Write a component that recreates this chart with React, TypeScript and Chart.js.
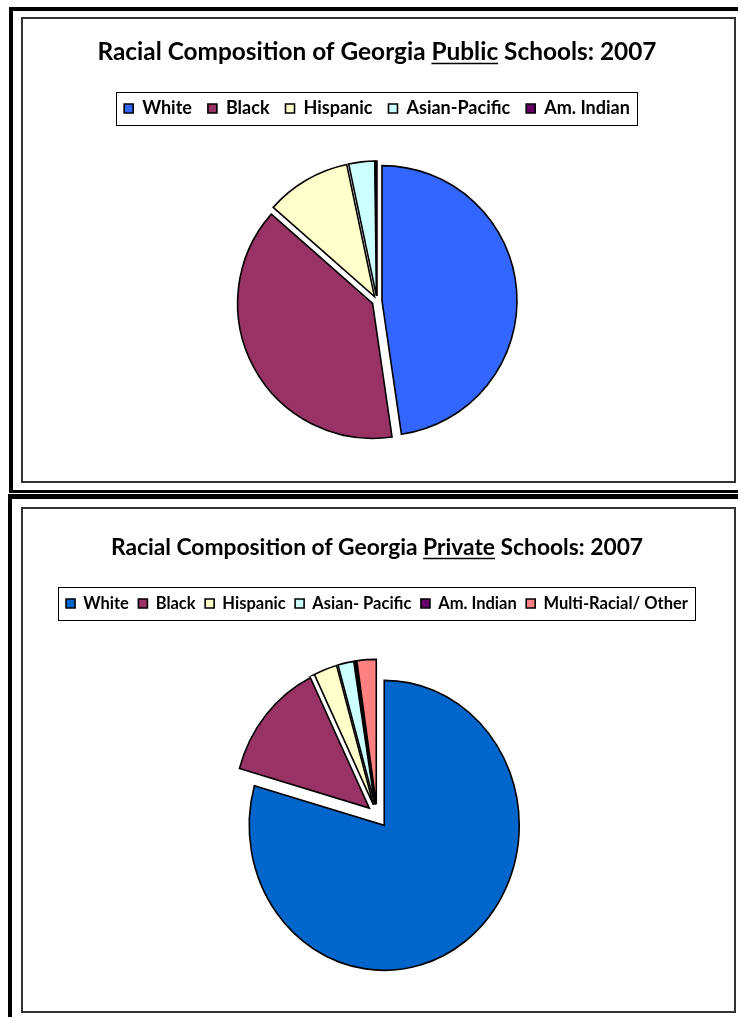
import React, { useEffect, useRef } from 'react';
import { Chart, registerables } from 'chart.js';

Chart.register(...registerables);

// ---- Data ----
const publicTitle = 'Racial Composition of Georgia Public Schools: 2007';
const publicLabels = ['White', 'Black', 'Hispanic', 'Asian-Pacific', 'Am. Indian'];
const publicValues = [47.7, 38.8, 10.2, 3.1, 0.2];

const privateTitle = 'Racial Composition of Georgia Private Schools: 2007';
const privateLabels = ['White', 'Black', 'Hispanic', 'Asian- Pacific', 'Am. Indian', 'Multi-Racial/ Other'];
const privateValues = [79.4, 13.4, 2.8, 1.9, 0.2, 2.3];

// ---- Styles ----
const publicColors = ['#3366FF', '#993366', '#FFFFCC', '#CCFFFF', '#660066'];
const privateColors = ['#0066CC', '#993366', '#FFFFCC', '#CCFFFF', '#660066', '#FF8080'];
const publicExplode = [5, 5, 5, 5, 5];
const privateExplode = [12, 10, 10, 10, 10, 10];

const FONT = 'Lato, "Open Sans", sans-serif';

// explode slices outward along their mid-angle (keeps the radius unchanged)
const explodePlugin = {
  id: 'explode',
  afterDatasetsUpdate(chart: any, _a: any, opts: any) {
    const meta = chart.getDatasetMeta(0);
    const ca = chart.chartArea;
    const cx = (ca.left + ca.right) / 2;
    const cy = (ca.top + ca.bottom) / 2;
    meta.data.forEach((arc: any, i: number) => {
      const d = (opts.distances && opts.distances[i]) || 0;
      const mid = (arc.startAngle + arc.endAngle) / 2;
      arc.x = cx + Math.cos(mid) * d;
      arc.y = cy + Math.sin(mid) * d;
    });
  },
};

// stretch the pie vertically about the chart-area centre
const stretchPlugin = {
  id: 'stretchY',
  beforeDatasetsDraw(chart: any, _a: any, opts: any) {
    const s = opts && opts.scaleY ? opts.scaleY : 1;
    const ca = chart.chartArea;
    const cx = (ca.left + ca.right) / 2;
    const cy = (ca.top + ca.bottom) / 2;
    const ctx = chart.ctx;
    ctx.save();
    ctx.translate(cx, cy);
    ctx.scale(1, s);
    ctx.translate(-cx, -cy);
  },
  afterDatasetsDraw(chart: any) {
    chart.ctx.restore();
  },
};

const decorPlugin = {
  id: 'decor',
  afterDraw(chart: any, _a: any, opts: any) {
    const ctx = chart.ctx;
    const lg = chart.legend;
    if (lg && lg.legendHitBoxes && lg.legendHitBoxes.length) {
      const hb = lg.legendHitBoxes;
      const minX = Math.min(...hb.map((h: any) => h.left));
      const maxX = Math.max(...hb.map((h: any) => h.left + h.width));
      const minY = Math.min(...hb.map((h: any) => h.top));
      const maxY = Math.max(...hb.map((h: any) => h.top + h.height));
      ctx.save();
      ctx.strokeStyle = '#000';
      ctx.lineWidth = 1;
      const l = Math.round(minX - opts.boxPadL) + 0.5;
      const r = Math.round(maxX + opts.boxPadR) + 0.5;
      const t = Math.round(minY - opts.boxPadT) + 0.5;
      const b = Math.round(maxY + opts.boxPadB) + 0.5;
      ctx.strokeRect(l, t, r - l, b - t);
      ctx.restore();
    }
    const tb = chart.titleBlock;
    if (tb && opts.underline) {
      const text: string = tb.options.text;
      const idx = text.indexOf(opts.underline);
      ctx.save();
      ctx.font = `bold ${opts.titleSize}px ${FONT}`;
      const W = ctx.measureText(text).width;
      const cx = (tb.left + tb.right) / 2;
      const x0 = cx - W / 2 + ctx.measureText(text.slice(0, idx)).width;
      const w = ctx.measureText(opts.underline).width;
      const mid = tb.top + opts.titlePadTop + (opts.titleSize * 1.2) / 2;
      const y = Math.round(mid + opts.titleSize * 0.45) + 0.5;
      ctx.strokeStyle = '#000';
      ctx.lineWidth = 1.3;
      ctx.beginPath();
      ctx.moveTo(x0, y);
      ctx.lineTo(x0 + w, y);
      ctx.stroke();
      ctx.restore();
    }
  },
};

type PieProps = {
  width: number;
  height: number;
  title: string;
  underline: string;
  titleSize: number;
  titlePadTop: number;
  titlePadBottom: number;
  legendSize: number;
  legendPad: number;
  labels: string[];
  values: number[];
  colors: string[];
  explode: number[];
  radius: number;
  scaleY: number;
  pad: { left: number; right: number; top: number; bottom: number };
  boxPad: { l: number; r: number; t: number; b: number };
};

function PieChart(p: PieProps) {
  const ref = useRef<HTMLCanvasElement>(null);
  useEffect(() => {
    if (!ref.current) return;
    const chart = new Chart(ref.current, {
      type: 'pie',
      data: {
        labels: p.labels,
        datasets: [
          {
            data: p.values,
            backgroundColor: p.colors,
            borderColor: '#000',
            borderWidth: 1.6,
            borderJoinStyle: 'miter',
            radius: p.radius,
            clip: false,
          } as any,
        ],
      },
      options: {
        responsive: false,
        animation: false,
        devicePixelRatio: 1,
        layout: { padding: p.pad },
        plugins: {
          tooltip: { enabled: false },
          title: {
            display: true,
            text: p.title,
            color: '#000',
            font: { family: FONT, size: p.titleSize, weight: 'bold', lineHeight: 1.2 },
            padding: { top: p.titlePadTop, bottom: p.titlePadBottom },
          },
          legend: {
            display: true,
            position: 'top',
            labels: {
              color: '#000',
              boxWidth: 9,
              boxHeight: 9,
              padding: p.legendPad,
              font: { family: FONT, size: p.legendSize, weight: 'bold' },
            },
          },
          explode: { distances: p.explode },
          stretchY: { scaleY: p.scaleY },
          decor: {
            underline: p.underline,
            titleSize: p.titleSize,
            titlePadTop: p.titlePadTop,
            boxPadL: p.boxPad.l,
            boxPadR: p.boxPad.r,
            boxPadT: p.boxPad.t,
            boxPadB: p.boxPad.b,
          },
        } as any,
      },
      plugins: [explodePlugin, stretchPlugin, decorPlugin],
    });
    return () => chart.destroy();
  }, []);
  return (
    <canvas
      ref={ref}
      width={p.width}
      height={p.height}
      style={{ width: p.width, height: p.height, display: 'block' }}
    />
  );
}

const abs = (l: number, t: number, w: number, h: number, extra: any = {}) => ({
  position: 'absolute' as const,
  left: l,
  top: t,
  width: w,
  height: h,
  boxSizing: 'border-box' as const,
  ...extra,
});

export default function App() {
  return (
    <div>
      {/* top panel outer frame */}
      <div style={abs(9, 7, 729, 4, { background: '#000' })} />
      <div style={abs(9, 7, 4, 486, { background: '#000' })} />
      <div style={abs(9, 490, 729, 3, { background: '#000' })} />
      {/* bottom panel outer frame */}
      <div style={abs(8, 494, 730, 5, { background: '#000' })} />
      <div style={abs(8, 494, 4, 523, { background: '#000' })} />

      <div style={abs(21, 17, 715, 466, { border: '2px solid #333', background: '#fff' })}>
        <PieChart
          width={711}
          height={462}
          title={publicTitle}
          underline="Public"
          titleSize={24.4}
          titlePadTop={18.36}
          titlePadBottom={16.86}
          legendSize={18}
          legendPad={16}
          labels={publicLabels}
          values={publicValues}
          colors={publicColors}
          explode={publicExplode}
          radius={135}
          scaleY={1}
          pad={{ left: 0, right: 3, top: 0, bottom: 6.5 }}
          boxPad={{ l: 8, r: 7, t: 7.5, b: 7.5 }}
        />
      </div>
      <div style={abs(21, 507, 715, 506, { border: '2px solid #333', background: '#fff' })}>
        <PieChart
          width={711}
          height={502}
          title={privateTitle}
          underline="Private"
          titleSize={22.8}
          titlePadTop={25.3}
          titlePadBottom={24.09}
          legendSize={16.5}
          legendPad={9.5}
          labels={privateLabels}
          values={privateValues}
          colors={privateColors}
          explode={privateExplode}
          radius={135}
          scaleY={1.074}
          pad={{ left: 0, right: 3, top: 0, bottom: 2.75 }}
          boxPad={{ l: 8, r: 7, t: 8, b: 8 }}
        />
      </div>
    </div>
  );
}
